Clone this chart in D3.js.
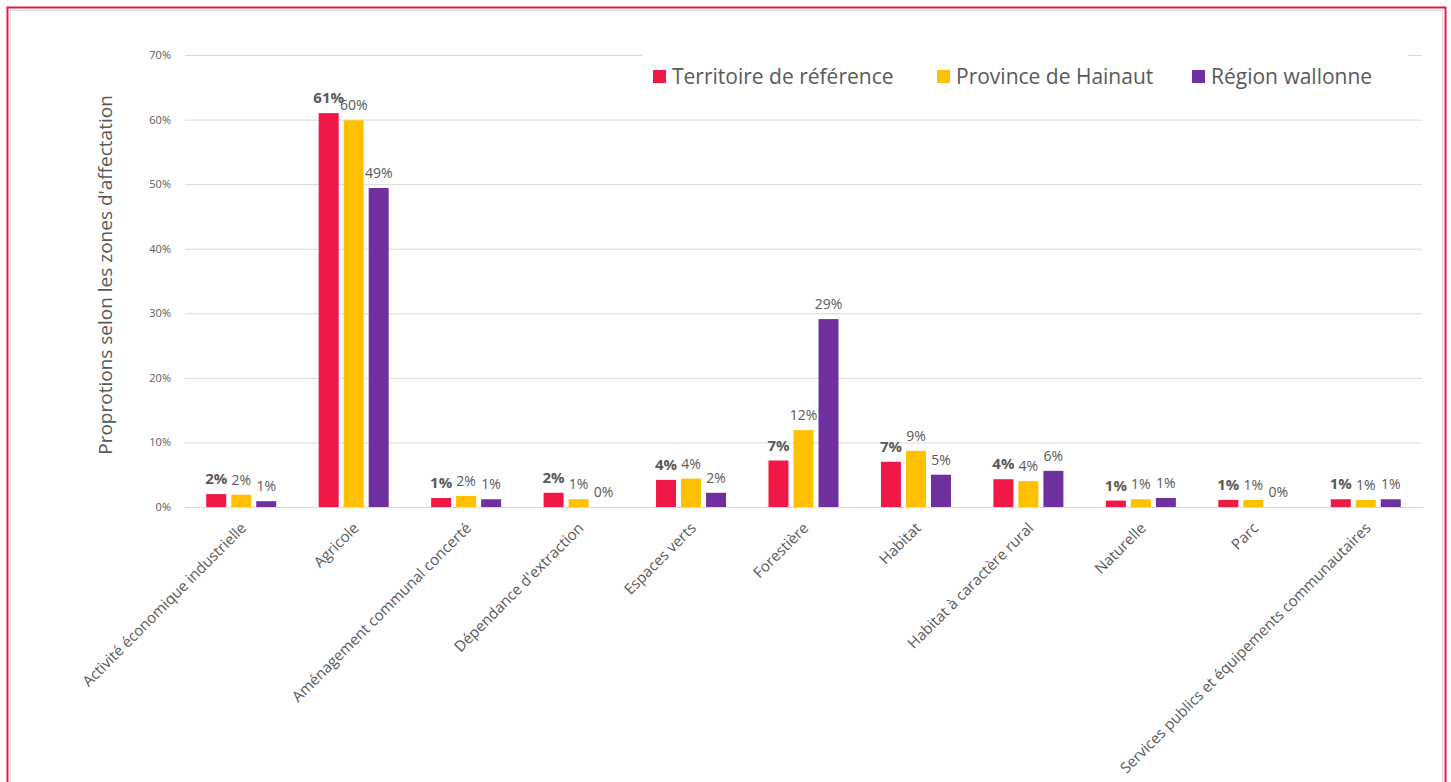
<!DOCTYPE html>
<html>
<head>
<meta charset="utf-8">
<script src="https://cdn.jsdelivr.net/npm/d3@7"></script>
<style>
  body { margin: 0; background: #fff; }
  text { font-family: "Open Sans", sans-serif; fill: #595959; }
</style>
</head>
<body>
<div id="chart"></div>
<script>
const categories = [
  "Activité économique industrielle", "Agricole", "Aménagement communal concerté",
  "Dépendance d'extraction", "Espaces verts", "Forestière", "Habitat",
  "Habitat à caractère rural", "Naturelle", "Parc",
  "Services publics et équipements communautaires"
];
const seriesNames = ["Territoire de référence", "Province de Hainaut", "Région wallonne"];
const territoire = [2.0, 61.0, 1.4, 2.2, 4.2, 7.2, 7.0, 4.3, 1.0, 1.1, 1.2];
const hainaut = [1.9, 59.9, 1.7, 1.2, 4.4, 11.9, 8.7, 4.0, 1.2, 1.1, 1.1];
const wallonie = [0.9, 49.4, 1.2, 0, 2.2, 29.1, 5.0, 5.6, 1.4, 0, 1.2];
const yTicks = [0, 10, 20, 30, 40, 50, 60, 70];
const colors = ["#ef1847", "#ffc000", "#7030a0"];

const width = 1451, height = 782;
const margin = ({ top: 55, right: 29, bottom: 275, left: 185 });

const svg = d3.select("#chart")
  .append("svg")
  .attr("width", width)
  .attr("height", height);

// frame
svg.append("rect")
  .attr("x", 10.5).attr("y", 10.5)
  .attr("width", 1432).attr("height", 800)
  .attr("fill", "none").attr("stroke", "#d9d9d9");
svg.append("rect")
  .attr("x", 7.5).attr("y", 7.5)
  .attr("width", 1438).attr("height", 800)
  .attr("fill", "none").attr("stroke", "#e8174a").attr("stroke-width", 2);

const series = [territoire, hainaut, wallonie];
const data = categories.map((c, i) => ({ cat: c, values: series.map(s => s[i]) }));

const x = d3.scaleBand()
  .domain(categories)
  .range([margin.left, width - margin.right]);

// 3 bars of 20px with 5px gaps
const x1 = d3.scaleBand()
  .domain([0, 1, 2])
  .range([x.bandwidth() / 2 - 35, x.bandwidth() / 2 + 35])
  .paddingInner(0.2);

const y = d3.scaleLinear()
  .domain([0, 70])
  .range([507, margin.top]);

// gridlines + y labels
const yAxis = svg.append("g")
  .attr("transform", `translate(${margin.left},0)`)
  .call(d3.axisLeft(y).tickValues(yTicks).tickFormat(d => d + "%")
    .tickSize(-(width - margin.left - margin.right)).tickPadding(14));
yAxis.select(".domain").remove();
yAxis.selectAll("line").attr("stroke", "#d9d9d9");
yAxis.selectAll("text").attr("font-size", 11).attr("fill", "#595959")
  .style("font-family", "Open Sans");

// bars
const groups = svg.append("g")
  .selectAll("g")
  .data(data)
  .join("g")
  .attr("transform", d => `translate(${x(d.cat)},0)`);

groups.selectAll("rect")
  .data(d => d.values.map((v, k) => ({ v, k })))
  .join("rect")
  .attr("x", d => x1(d.k))
  .attr("width", x1.bandwidth())
  .attr("y", d => y(d.v))
  .attr("height", d => y(0) - y(d.v))
  .attr("fill", d => colors[d.k]);

groups.selectAll("text")
  .data(d => d.values.map((v, k) => ({ v, k })))
  .join("text")
  .attr("x", d => x1(d.k) + x1.bandwidth() / 2)
  .attr("y", d => y(d.v) - 10)
  .attr("text-anchor", "middle")
  .attr("font-size", d => d.k === 0 ? 15 : 14)
  .attr("font-weight", d => d.k === 0 ? "bold" : "normal")
  .attr("fill", d => d.k === 0 ? "#404040" : "#595959")
  .text(d => Math.round(d.v) + "%");

// x axis
const xAxis = svg.append("g")
  .attr("transform", `translate(0,${y(0)})`)
  .call(d3.axisBottom(x).tickSize(0).tickPadding(0));
xAxis.select(".domain").attr("stroke", "#d9d9d9");
xAxis.selectAll("text")
  .attr("font-size", 15)
  .attr("fill", "#595959")
  .attr("text-anchor", "end")
  .attr("dy", 0)
  .attr("transform", "translate(6,22) rotate(-45)");

// y title
svg.append("text")
  .attr("transform", "translate(112,275) rotate(-90)")
  .attr("text-anchor", "middle")
  .attr("font-size", 19)
  .attr("fill", "#595959")
  .text("Proprotions selon les zones d'affectation");

// legend
svg.append("rect")
  .attr("x", 643).attr("y", 45)
  .attr("width", 765).attr("height", 50)
  .attr("fill", "#fff");
const legendX = [653, 937, 1192];
const legend = svg.append("g")
  .selectAll("g")
  .data(seriesNames)
  .join("g")
  .attr("transform", (d, i) => `translate(${legendX[i]},70)`);
legend.append("rect")
  .attr("width", 13).attr("height", 13)
  .attr("fill", (d, i) => colors[i]);
legend.append("text")
  .attr("x", 19).attr("y", 14)
  .attr("font-size", 21)
  .attr("fill", "#595959")
  .text(d => d);
</script>
</body>
</html>
